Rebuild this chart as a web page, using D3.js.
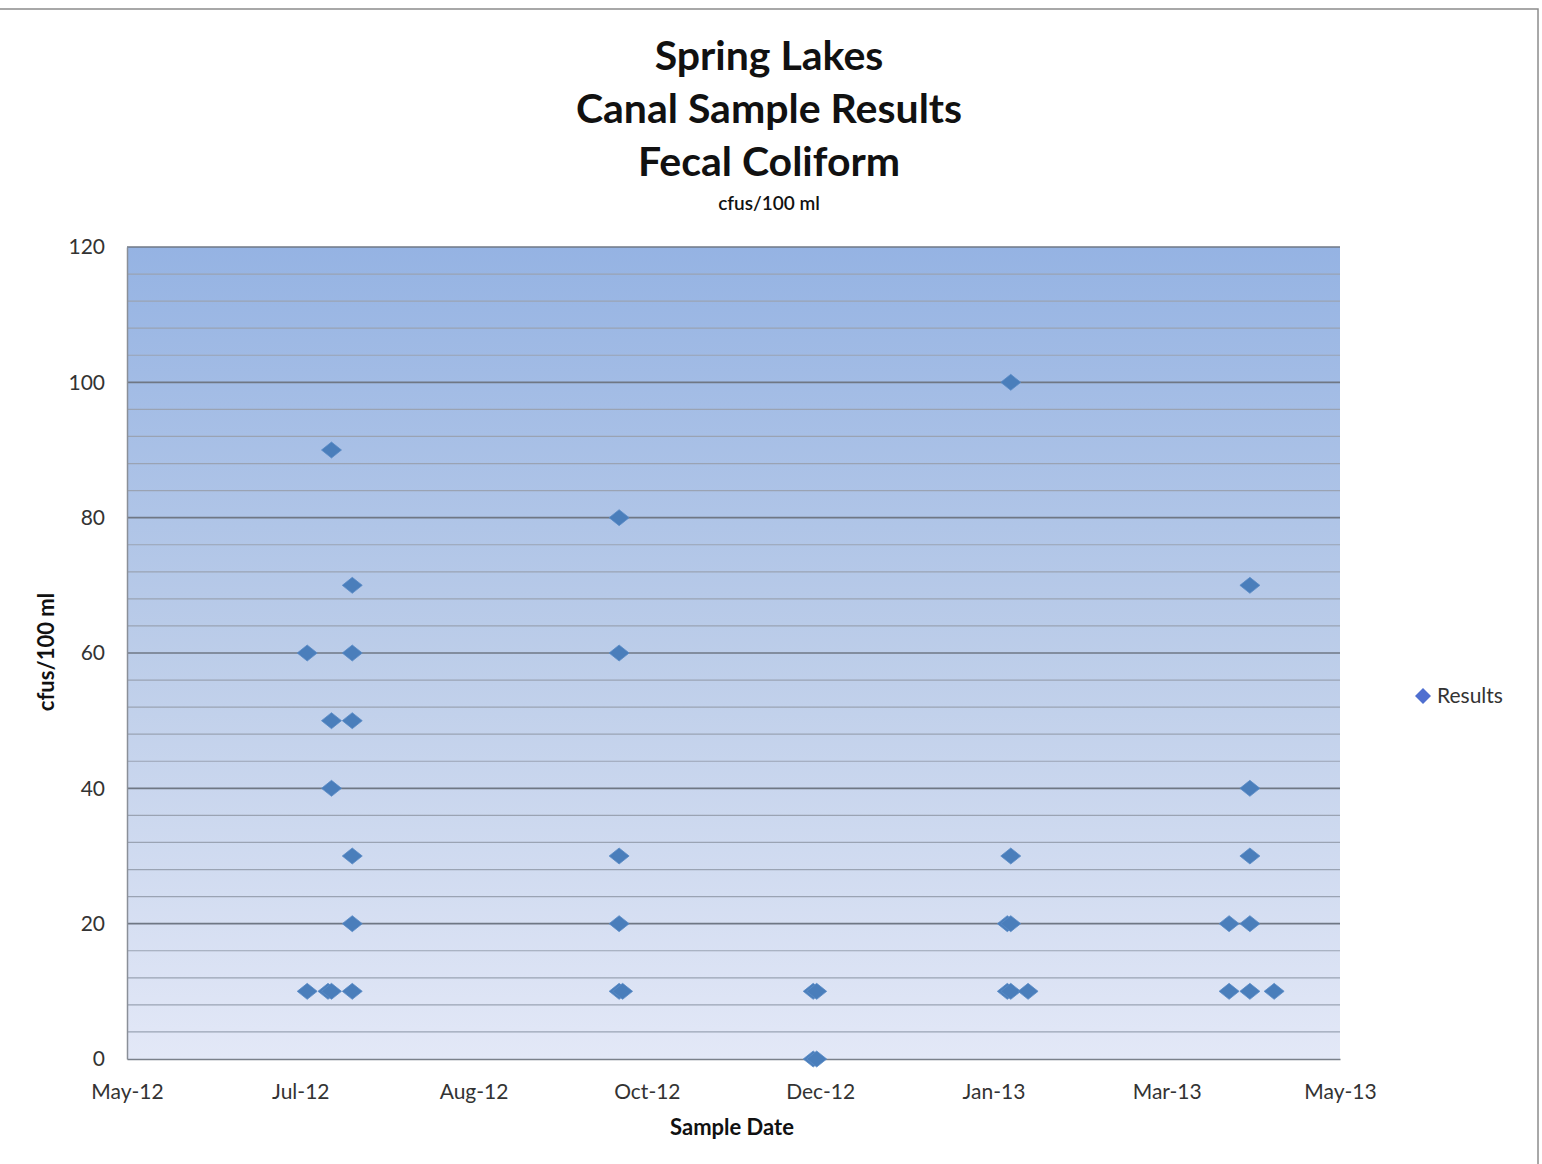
<!DOCTYPE html>
<html>
<head>
<meta charset="utf-8">
<script src="https://cdn.jsdelivr.net/npm/d3@7"></script>
<style>
  body { margin: 0; background: #fff; }
  svg { display: block; font-family: Lato, "Open Sans", sans-serif; }
</style>
</head>
<body>
<div id="chart"></div>
<script>
// Sample dates and fecal coliform results (cfus/100 ml)
const sampleDates = [
  '2012-07-11', '2012-07-11',
  '2012-07-18', '2012-07-18', '2012-07-18', '2012-07-17', '2012-07-18',
  '2012-07-24', '2012-07-24', '2012-07-24', '2012-07-24', '2012-07-24', '2012-07-24',
  '2012-10-09', '2012-10-09', '2012-10-09', '2012-10-09', '2012-10-09', '2012-10-10',
  '2012-12-04', '2012-12-05', '2012-12-04', '2012-12-05',
  '2013-01-30', '2013-01-30', '2013-01-29', '2013-01-30', '2013-01-29', '2013-01-30', '2013-02-04',
  '2013-04-03', '2013-04-03',
  '2013-04-09', '2013-04-09', '2013-04-09', '2013-04-09', '2013-04-09',
  '2013-04-16'
];
const results = [
  60, 10,
  90, 50, 40, 10, 10,
  70, 60, 50, 30, 20, 10,
  80, 60, 30, 20, 10, 10,
  10, 10, 0, 0,
  100, 30, 20, 20, 10, 10, 10,
  20, 10,
  70, 40, 30, 20, 10,
  10
];
const yTicks = [0, 20, 40, 60, 80, 100, 120];
const xStart = '2012-05-20';
const xEnd = '2013-05-05';
const xStepDays = 50;
const titleLines = ['Spring Lakes', 'Canal Sample Results', 'Fecal Coliform'];

const width = 1542, height = 1164;
const margin = { top: 247, right: 202, bottom: 105, left: 127 };
const parse = d3.timeParse('%Y-%m-%d');

const svg = d3.select('#chart').append('svg')
  .attr('width', width)
  .attr('height', height);

// chart frame
svg.append('rect')
  .attr('x', -2).attr('y', 9)
  .attr('width', 1540).attr('height', height)
  .attr('fill', '#fff')
  .attr('stroke', '#8c8c8c')
  .attr('stroke-width', 1.5);

const x = d3.scaleTime()
  .domain([parse(xStart), parse(xEnd)])
  .range([margin.left, width - margin.right]);
const y = d3.scaleLinear()
  .domain([0, 120])
  .range([height - margin.bottom, margin.top]);

const defs = svg.append('defs');
const grad = defs.append('linearGradient')
  .attr('id', 'plotbg')
  .attr('x1', 0).attr('y1', 0).attr('x2', 0).attr('y2', 1);
grad.append('stop').attr('offset', '0%').attr('stop-color', '#95b3e3');
grad.append('stop').attr('offset', '50%').attr('stop-color', '#bccde9');
grad.append('stop').attr('offset', '100%').attr('stop-color', '#e3e8f7');

svg.append('rect')
  .attr('x', x.range()[0])
  .attr('y', y(120))
  .attr('width', x.range()[1] - x.range()[0])
  .attr('height', y(0) - y(120))
  .attr('fill', 'url(#plotbg)');

// minor gridlines every 4
const minor = d3.range(4, 120, 4).filter(v => v % 20 !== 0);
svg.append('g')
  .selectAll('line')
  .data(minor)
  .join('line')
  .attr('x1', x.range()[0]).attr('x2', x.range()[1])
  .attr('y1', d => y(d)).attr('y2', d => y(d))
  .attr('stroke', '#9aa3b3')
  .attr('stroke-width', 1.2);

// major gridlines
svg.append('g')
  .selectAll('line')
  .data(yTicks.filter(v => v > 0))
  .join('line')
  .attr('x1', x.range()[0]).attr('x2', x.range()[1])
  .attr('y1', d => y(d)).attr('y2', d => y(d))
  .attr('stroke', '#6f7784')
  .attr('stroke-width', 1.6);

// axes
const yAxis = svg.append('g')
  .attr('transform', `translate(${margin.left},0)`)
  .call(d3.axisLeft(y).tickValues(yTicks).tickSize(0).tickPadding(22));
yAxis.select('.domain').attr('stroke', '#8a8f98').attr('stroke-width', 1.5);

const xTickValues = d3.range(0, 351, xStepDays).map(d => d3.timeDay.offset(parse(xStart), d));
const xAxis = svg.append('g')
  .attr('transform', `translate(0,${y(0)})`)
  .call(d3.axisBottom(x).tickValues(xTickValues).tickFormat(d3.timeFormat('%b-%y')).tickSize(0).tickPadding(25));
xAxis.select('.domain').attr('stroke', '#7a808a').attr('stroke-width', 1.5);

svg.selectAll('.tick text')
  .attr('fill', '#333')
  .attr('font-size', 21)
  .attr('font-family', 'Lato, "Open Sans", sans-serif');

// markers
const diamond = 'M0,-8 L10,0 L0,8 L-10,0 Z';
svg.append('g')
  .selectAll('path')
  .data(results.map((v, i) => ({ date: parse(sampleDates[i]), value: v })))
  .join('path')
  .attr('d', diamond)
  .attr('transform', d => `translate(${x(d.date)},${y(d.value)})`)
  .attr('fill', '#4a7ebb')
  .attr('stroke', '#5b8bc6')
  .attr('stroke-width', 0.8);

// titles
svg.append('g')
  .selectAll('text')
  .data(titleLines)
  .join('text')
  .attr('x', 769)
  .attr('y', (d, i) => 70 + i * 53)
  .attr('text-anchor', 'middle')
  .attr('font-size', 41)
  .attr('font-weight', 700)
  .attr('fill', '#111')
  .text(d => d);

svg.append('text')
  .attr('x', 769).attr('y', 210)
  .attr('text-anchor', 'middle')
  .attr('font-size', 19)
  .attr('font-weight', 600)
  .attr('fill', '#111')
  .text('cfus/100 ml');

svg.append('text')
  .attr('x', 732).attr('y', 1135)
  .attr('text-anchor', 'middle')
  .attr('font-size', 22)
  .attr('font-weight', 700)
  .attr('fill', '#111')
  .text('Sample Date');

svg.append('text')
  .attr('transform', `translate(54,652) rotate(-90)`)
  .attr('text-anchor', 'middle')
  .attr('font-size', 22)
  .attr('font-weight', 700)
  .attr('fill', '#111')
  .text('cfus/100 ml');

// legend
const legend = svg.append('g').attr('transform', 'translate(1423,696)');
legend.append('path')
  .attr('d', 'M0,-8 L8,0 L0,8 L-8,0 Z')
  .attr('fill', '#4f6fd0');
legend.append('text')
  .attr('x', 14).attr('y', 7)
  .attr('font-size', 21)
  .attr('fill', '#333')
  .text('Results');
</script>
</body>
</html>
